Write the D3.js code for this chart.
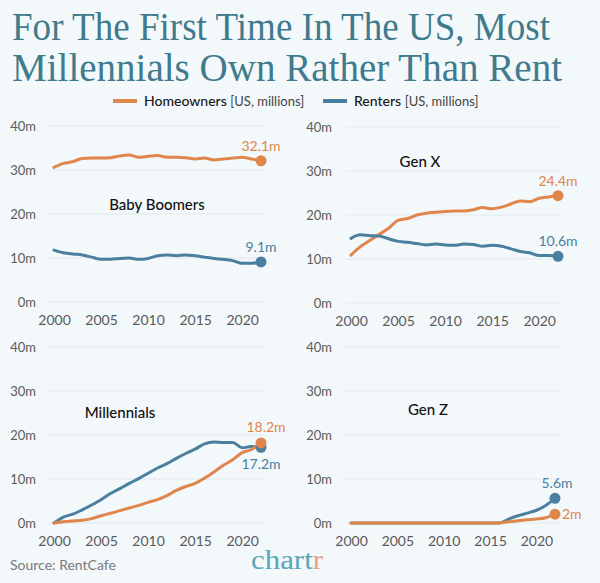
<!DOCTYPE html>
<html><head><meta charset="utf-8">
<script src="https://cdn.jsdelivr.net/npm/d3@7"></script>
<style>
html,body{margin:0;padding:0;background:#f3f8fb;}
svg{display:block;}
</style></head>
<body>
<svg id="c" width="600" height="583"></svg>
<script>
const years = d3.range(2000, 2023);
const yTicks = [0, 10, 20, 30, 40];
const xTicks = [2000, 2005, 2010, 2015, 2020];

const boomersOwn = [30.6,31.5,31.9,32.6,32.7,32.7,32.8,33.2,33.4,32.9,33.1,33.3,32.9,32.9,32.8,32.5,32.7,32.3,32.5,32.7,32.9,32.5,32.1];
const boomersRent = [11.8,11.2,10.9,10.7,10.2,9.7,9.7,9.9,10.0,9.7,9.9,10.5,10.7,10.5,10.7,10.5,10.2,9.9,9.7,9.4,8.8,8.8,9.1];
const genXOwn = [10.9,12.8,14.2,15.6,17.0,18.8,19.2,20.0,20.4,20.6,20.8,20.9,20.9,21.2,21.7,21.4,21.8,22.5,23.2,23.0,23.8,24.1,24.4];
const genXRent = [14.7,15.5,15.3,15.2,14.6,14.0,13.8,13.5,13.2,13.4,13.2,13.1,13.4,13.3,12.9,13.1,12.9,12.3,11.7,11.4,10.8,10.8,10.6];
const millOwn = [0,0.3,0.45,0.6,1.0,1.65,2.2,2.8,3.4,4.0,4.7,5.3,6.2,7.4,8.3,9.0,10.2,11.6,13.1,14.4,16.0,16.7,18.2];
const millRent = [0,1.35,2.0,3.0,4.1,5.3,6.7,7.8,9.0,10.1,11.3,12.5,13.5,14.7,15.8,16.8,18.0,18.4,18.3,18.3,17.1,17.4,17.2];
const genZOwn = [0,0,0,0,0,0,0,0,0,0,0,0,0,0,0,0,0,0.3,0.5,0.75,0.9,1.2,2.0];
const genZRent = [0,0,0,0,0,0,0,0,0,0,0,0,0,0,0,0,0,0.9,1.65,2.25,2.9,4.0,5.6];

const panelNames = ["Baby Boomers", "Gen X", "Millennials", "Gen Z"];
const ownSeries = [boomersOwn, genXOwn, millOwn, genZOwn];
const rentSeries = [boomersRent, genXRent, millRent, genZRent];
const ownLabels = ["32.1m", "24.4m", "18.2m", "2m"];
const rentLabels = ["9.1m", "10.6m", "17.2m", "5.6m"];

const ORANGE = "#e0854b", BLUE = "#4a7f9f", TEAL = "#3f7b8c";
const svg = d3.select("#c");
svg.append("rect").attr("width",600).attr("height",583).attr("fill","#f3f8fb");

// Title
const title = svg.append("g").attr("fill", TEAL)
  .style("font-family","'Liberation Serif', serif");
title.append("text").attr("x",12).attr("y",40).attr("font-size",40)
  .attr("textLength",538).attr("lengthAdjust","spacingAndGlyphs")
  .text("For The First Time In The US, Most");
title.append("text").attr("x",12).attr("y",81).attr("font-size",40)
  .attr("textLength",550).attr("lengthAdjust","spacingAndGlyphs")
  .text("Millennials Own Rather Than Rent");

// Legend
const leg = svg.append("g").style("font-family","Lato, sans-serif").attr("font-size",14);
const legItems = [{x:113, c:ORANGE, name:"Homeowners"}, {x:323, c:BLUE, name:"Renters"}];
legItems.forEach(d => {
  leg.append("line").attr("x1",d.x).attr("x2",d.x+24).attr("y1",101).attr("y2",101)
    .attr("stroke",d.c).attr("stroke-width",4);
  const t = leg.append("text").attr("x",d.x+31).attr("y",106).attr("fill","#1a1a1a");
  t.append("tspan").attr("font-weight",500).text(d.name + " ");
  t.append("tspan").attr("fill","#444").attr("font-size",13).text("[US, millions]");
});

// Panels
const panels = [
  {x0:54, x1:261, y0:302, y1:126, gx0:49, gx1:265, lab:36, title:[157,210], ownOff:[0,-10], rentOff:[0,-10]},
  {x0:351, x1:558, y0:303, y1:127, gx0:346, gx1:562, lab:332, title:[420,167], ownOff:[0,-10], rentOff:[0,-10]},
  {x0:54, x1:261, y0:523, y1:347, gx0:49, gx1:265, lab:36, title:[120,418], ownOff:[5,-11], rentOff:[0,22]},
  {x0:351, x1:555, y0:523, y1:347, gx0:345, gx1:560, lab:332, title:[428,415], ownOff:[0,0], rentOff:[2,-10]}
];

panels.forEach((p, i) => {
  const x = d3.scaleLinear().domain([2000, 2022]).range([p.x0, p.x1]);
  const y = d3.scaleLinear().domain([0, 40]).range([p.y0, p.y1]);
  const g = svg.append("g").style("font-family","Lato, sans-serif");

  const yAxis = d3.axisLeft(y).tickValues(yTicks).tickSize(0).tickFormat(d => d + "m");
  const ya = g.append("g").attr("transform",`translate(${p.lab},0)`).call(yAxis);
  ya.select(".domain").remove();
  ya.selectAll("text").attr("x",0).attr("fill","#5a5a5a").attr("font-size",13).style("font-family","Lato, sans-serif");
  g.selectAll(".grid").data(yTicks).enter().append("line")
    .attr("x1",p.gx0).attr("x2",p.gx1).attr("y1",d=>y(d)).attr("y2",d=>y(d))
    .attr("stroke","#e2e8ec").attr("stroke-width",1);

  const xAxis = d3.axisBottom(x).tickValues(xTicks).tickSize(0).tickFormat(d3.format("d"));
  const xa = g.append("g").attr("transform",`translate(0,${p.y0+10})`).call(xAxis);
  xa.select(".domain").remove();
  xa.selectAll("text").attr("fill","#5a5a5a").attr("font-size",14).style("font-family","Lato, sans-serif");

  const line = d3.line().x((d,j)=>x(years[j])).y(d=>y(d)).curve(d3.curveMonotoneX);
  const series = i >= 2 ? [[rentSeries[i], BLUE], [ownSeries[i], ORANGE]]
                        : [[ownSeries[i], ORANGE], [rentSeries[i], BLUE]];
  series.forEach(([s, c]) => {
    g.append("path").datum(s).attr("d", line).attr("fill","none")
      .attr("stroke",c).attr("stroke-width",3).attr("stroke-linejoin","round").attr("stroke-linecap","round");
  });
  const last = years.length - 1;
  [[rentSeries[i], BLUE], [ownSeries[i], ORANGE]].forEach(([s,c]) => {
    g.append("circle").attr("cx",x(years[last])).attr("cy",y(s[last])).attr("r",5.5).attr("fill",c);
  });
  if (i === 3) {
    g.append("text").attr("x",x(years[last])+7).attr("y",y(ownSeries[i][last])+5)
      .attr("fill",ORANGE).attr("font-size",14).text(ownLabels[i]);
  } else {
    g.append("text").attr("x",x(years[last])+p.ownOff[0]).attr("y",y(ownSeries[i][last])+p.ownOff[1])
      .attr("text-anchor","middle").attr("fill",ORANGE).attr("font-size",14).text(ownLabels[i]);
  }
  g.append("text").attr("x",x(years[last])+p.rentOff[0]).attr("y",y(rentSeries[i][last])+p.rentOff[1])
    .attr("text-anchor","middle").attr("fill",BLUE).attr("font-size",14).text(rentLabels[i]);

  g.append("text").attr("x",p.title[0]).attr("y",p.title[1]).attr("text-anchor","middle")
    .attr("fill","#111").attr("font-size",15).attr("font-weight",500).text(panelNames[i]);
});

// Footer
svg.append("text").attr("x",10).attr("y",570).attr("fill","#7a7a7a").attr("font-size",14)
  .style("font-family","Lato, sans-serif").text("Source: RentCafe");
const logo = svg.append("text").attr("x",251).attr("y",569).attr("font-size",28)
  .style("font-family","'Liberation Serif', serif").attr("textLength",72).attr("lengthAdjust","spacingAndGlyphs");
logo.append("tspan").attr("fill","#5aa5b8").text("chart");
logo.append("tspan").attr("fill","#eaa27e").text("r");
</script>
</body></html>
